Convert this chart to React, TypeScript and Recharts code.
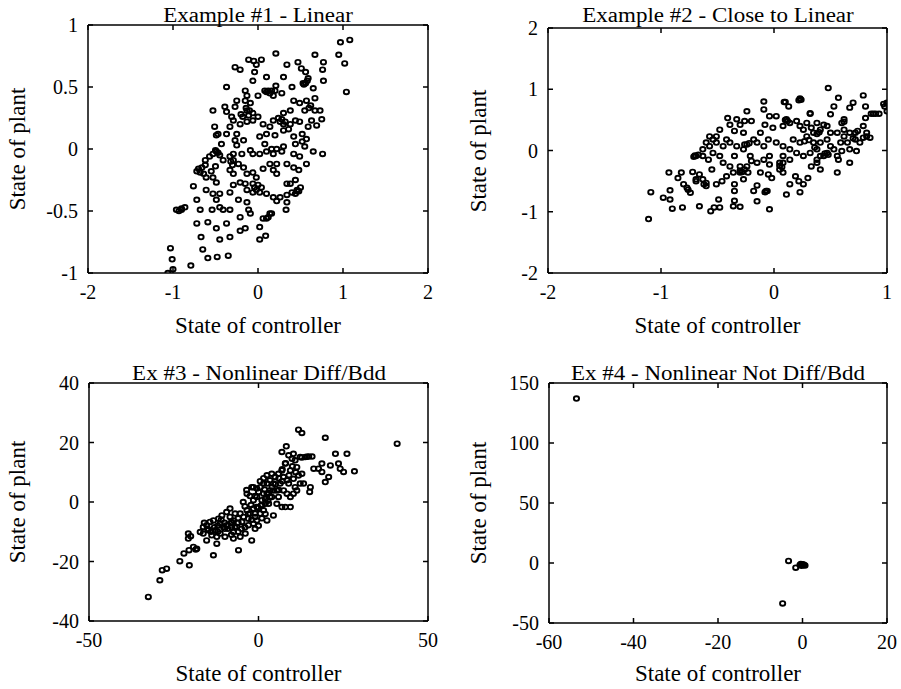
import { ScatterChart, Scatter, XAxis, YAxis } from "recharts";

const FONT = '"Liberation Serif", "DejaVu Serif", serif';

type Pt = [number, number];

// [state of controller, state of plant]
const ex1Points: Pt[] = [
  [0.97, 0.86], [1.08, 0.88], [0.95, 0.76], [1.02, 0.69], [1.04, 0.46],
  [0.67, 0.76], [0.77, 0.7], [0.76, 0.64], [0.77, 0.55], [0.65, 0.49], [0.47, 0.7], [0.51, 0.65],
  [0.56, 0.62], [0.59, 0.57], [0.53, 0.53], [0.21, 0.77], [0.34, 0.68], [0.3, 0.58], [0.4, 0.5],
  [0.21, 0.51], [0.12, 0.47], [0.18, 0.43], [0.28, 0.45],
  [-0.11, 0.72], [-0.05, 0.71], [0.04, 0.72], [-0.02, 0.68], [-0.04, 0.62], [-0.06, 0.55],
  [-0.27, 0.66], [-0.21, 0.64], [0.1, 0.58], [0.0, 0.43], [-0.15, 0.47], [-0.13, 0.43],
  [-0.25, 0.39], [-0.27, 0.34], [-0.39, 0.34], [-0.37, 0.3], [-0.13, 0.31], [-0.06, 0.29],
  [0.0, 0.26], [-0.11, 0.27],
  [0.42, 0.39], [0.49, 0.37], [0.57, 0.39], [0.67, 0.41], [0.67, 0.31], [0.73, 0.31], [0.55, 0.31],
  [0.38, 0.31], [0.3, 0.29],
  [0.18, 0.23], [0.26, 0.22], [0.32, 0.22], [0.38, 0.2], [0.44, 0.23], [0.49, 0.22], [0.63, 0.23],
  [0.75, 0.24], [0.69, 0.19], [0.59, 0.18], [0.52, 0.12], [0.42, 0.1], [0.44, 0.04], [0.52, 0.06],
  [0.57, 0.08], [0.55, 0.02], [0.65, -0.02], [0.76, -0.04], [0.57, -0.12], [0.49, -0.06], [0.42, -0.04],
  [-0.29, 0.23], [-0.21, 0.2], [-0.13, 0.22], [-0.06, 0.23], [0.06, 0.2], [0.14, 0.18], [0.1, 0.12],
  [0.02, 0.1], [0.2, 0.11], [0.3, 0.15], [0.36, 0.16],
  [-0.51, 0.18], [-0.49, 0.11], [-0.37, 0.12], [-0.25, 0.12], [-0.27, 0.07], [-0.25, 0.03],
  [-0.17, 0.07], [-0.43, 0.04],
  [0.08, 0.04], [0.16, 0.0], [0.22, 0.0], [0.28, -0.02], [0.3, 0.02], [0.18, -0.04], [0.1, -0.02],
  [0.02, -0.04], [-0.06, -0.04], [-0.09, -0.01], [-0.19, -0.04], [-0.29, -0.04], [-0.33, -0.06],
  [-0.41, -0.09], [-0.49, -0.02], [-0.53, -0.04], [-0.57, -0.06], [-0.62, -0.09], [-0.66, -0.15],
  [-0.68, -0.19], [-0.64, -0.2],
  [-0.29, -0.09], [-0.23, -0.12], [-0.17, -0.15], [-0.33, -0.17], [-0.29, -0.2], [-0.13, -0.2],
  [-0.06, -0.19], [-0.02, -0.23], [0.06, -0.16], [0.18, -0.17], [0.22, -0.2], [0.34, -0.12],
  [0.42, -0.15], [0.48, -0.17], [0.44, -0.25], [0.38, -0.28], [0.34, -0.28], [0.22, -0.12], [0.14, -0.12],
  [-0.53, -0.23], [-0.49, -0.27], [-0.61, -0.23], [-0.76, -0.3], [-0.61, -0.33], [-0.53, -0.36],
  [-0.45, -0.36], [-0.33, -0.35], [-0.29, -0.29], [-0.21, -0.27], [-0.15, -0.28], [-0.06, -0.28],
  [0.0, -0.29], [-0.13, -0.33], [-0.06, -0.35], [0.02, -0.35], [0.1, -0.36], [0.18, -0.39],
  [0.26, -0.39], [0.34, -0.37], [0.4, -0.35], [0.46, -0.33], [0.34, -0.43], [0.33, -0.49],
  [0.22, -0.42], [0.14, -0.52], [0.1, -0.56], [0.06, -0.56],
  [-0.72, -0.41], [-0.68, -0.49], [-0.54, -0.49], [-0.49, -0.41], [-0.45, -0.47], [-0.41, -0.49],
  [-0.33, -0.49], [-0.23, -0.41], [-0.13, -0.43], [-0.11, -0.49], [-0.09, -0.52], [-0.21, -0.55],
  [-0.96, -0.49], [-0.9, -0.48], [-0.86, -0.47],
  [-0.72, -0.6], [-0.59, -0.59], [-0.49, -0.64], [-0.37, -0.6], [-0.21, -0.66], [-0.15, -0.64],
  [-0.67, -0.71], [-0.45, -0.73], [-0.33, -0.71], [0.02, -0.63], [0.02, -0.73], [0.09, -0.7],
  [-0.65, -0.81], [-0.59, -0.88], [-0.48, -0.87], [-0.35, -0.86], [-0.79, -0.94], [-1.03, -0.8],
  [-1.01, -0.89], [-1.0, -0.97], [-1.06, -1.0],
  [-0.53, 0.31], [-0.47, 0.12], [-0.62, -0.13], [-0.37, 0.5], [-0.15, 0.39], [-0.09, 0.37],
  [-0.31, 0.26], [-0.33, 0.18],
  [-0.5, -0.01], [-0.47, -0.03], [-0.45, -0.05], [-0.7, -0.16], [-0.72, -0.18], [0.1, 0.46],
  [0.14, 0.45], [0.16, 0.47], [0.56, 0.53], [0.58, 0.55], [-0.14, 0.33], [-0.1, 0.31],
  [0.46, -0.34], [0.5, -0.31], [-0.9, -0.49], [-0.93, -0.5],
  [-0.55, -0.18], [-0.5, -0.14], [-0.04, -0.31], [-0.02, -0.33], [0.04, -0.31], [0.44, -0.36],
  [0.48, -0.34], [0.12, -0.55], [0.16, -0.52], [0.08, 0.47], [0.2, 0.47], [0.24, 0.25],
  [0.28, 0.24], [0.3, 0.2], [0.54, 0.52], [-0.2, 0.28], [-0.18, 0.26], [-0.32, -0.1],
  [-0.3, -0.13], [0.6, 0.33], [0.62, 0.35],
];

const ex2Points: Pt[] = [
  [-1.11, -1.12], [-1.09, -0.68], [-0.98, -0.77], [-0.92, -0.8], [-0.9, -0.95], [-0.81, -0.93],
  [-0.92, -0.65], [-0.93, -0.36], [-0.85, -0.45], [-0.82, -0.36], [-0.8, -0.55], [-0.77, -0.61],
  [-0.74, -0.69], [-0.72, -0.35], [-0.69, -0.47], [-0.66, -0.39], [-0.66, -0.91], [-0.63, -0.47],
  [-0.6, -0.53], [-0.55, -0.31], [-0.56, -0.99], [-0.53, -0.93], [-0.49, -0.8], [-0.48, -0.93],
  [-0.51, -0.55], [-0.46, -0.5], [-0.42, -0.42], [-0.35, -0.09], [-0.3, -0.26], [-0.35, -0.55],
  [-0.35, -0.66], [-0.35, -0.82], [-0.36, -0.91], [-0.3, -0.92], [-0.27, -0.47], [-0.23, -0.36],
  [-0.2, -0.17], [-0.18, -0.66], [-0.15, -0.83], [-0.15, -0.57], [-0.06, -0.66], [-0.04, -0.96],
  [-0.05, -0.39], [-0.02, -0.45], [-0.04, -0.23], [0.05, -0.31], [0.08, -0.2], [0.11, -0.72],
  [0.14, -0.55], [0.19, -0.42], [0.22, -0.5], [0.23, -0.68], [0.26, -0.55], [0.3, -0.45],
  [0.33, -0.26], [0.38, -0.2], [0.44, -0.09], [0.56, -0.36], [0.57, -0.15], [0.67, -0.2],
  [0.6, -0.01], [0.67, 0.02], [0.73, -0.01], [0.76, 0.13], [0.82, 0.23], [0.85, 0.21], [0.79, 0.4],
  [0.81, 0.53], [0.81, 0.72], [0.79, 0.9], [0.88, 0.6], [0.93, 0.6], [0.98, 0.72], [1.0, 0.78],
  [1.0, 0.64], [0.48, 1.02], [0.53, 0.72], [0.57, 0.86], [0.62, 0.51], [0.67, 0.7], [0.7, 0.78],
  [0.72, 0.29], [0.5, 0.59], [0.44, 0.42], [0.38, 0.45], [0.33, 0.37], [0.32, 0.61], [0.23, 0.85],
  [0.1, 0.79], [0.13, 0.72], [-0.09, 0.8], [-0.09, 0.67], [-0.04, 0.56], [0.02, 0.56], [0.11, 0.51],
  [0.2, 0.48], [0.23, 0.4], [0.08, 0.4], [-0.01, 0.37], [-0.08, 0.42], [-0.12, 0.29], [-0.18, 0.18],
  [-0.24, 0.1], [-0.27, 0.29], [-0.26, 0.48], [-0.3, 0.42], [-0.24, 0.64], [-0.2, 0.48], [-0.33, 0.51],
  [-0.41, 0.53], [-0.39, 0.42], [-0.48, 0.34], [-0.51, 0.23], [-0.57, 0.23], [-0.6, 0.13],
  [-0.51, 0.13], [-0.42, 0.18], [-0.35, 0.32], [-0.69, -0.09], [-0.63, -0.09], [-0.58, -0.15],
  [-0.54, -0.04], [-0.48, -0.09], [-0.45, -0.2], [-0.39, -0.26], [-0.36, -0.36], [-0.21, -0.09],
  [-0.15, 0.13], [-0.09, 0.07], [-0.05, 0.18], [0.02, 0.13], [0.08, 0.07], [0.14, 0.02],
  [0.17, 0.18], [0.23, 0.13], [0.29, 0.23], [0.35, 0.13], [0.38, 0.02], [0.41, 0.13], [0.5, 0.07],
  [0.59, 0.13], [0.62, 0.23], [0.65, 0.13], [0.5, 0.29], [0.47, 0.18], [0.56, 0.29], [0.62, 0.34],
  [0.08, -0.09], [0.14, -0.15], [0.2, -0.04], [0.26, -0.09], [0.32, -0.04], [0.38, -0.15],
  [0.41, -0.09], [-0.04, -0.09], [-0.09, -0.15], [-0.15, -0.2], [-0.24, -0.26], [-0.3, -0.36],
  [-0.26, -0.31], [-0.12, -0.36], [0.08, -0.36], [0.05, -0.2], [0.41, -0.31], [0.47, -0.04],
  [0.53, 0.02], [0.56, -0.09], [0.82, 0.29], [0.79, 0.21], [0.74, 0.32], [0.67, 0.29],
  [-0.54, 0.18], [-0.57, 0.07], [-0.63, 0.02], [-0.67, -0.07], [-0.45, 0.07], [-0.39, 0.13],
  [-0.33, 0.07], [-0.27, 0.02], [0.26, 0.34], [0.29, 0.45], [0.35, 0.29], [0.41, 0.34], [0.47, 0.4],
  [-0.69, -0.5], [-0.76, -0.64],
  [0.22, 0.82], [0.24, 0.83], [0.09, 0.79], [-0.07, -0.66], [-0.08, -0.68], [-0.7, -0.08],
  [-0.71, -0.1], [0.32, 0.6], [1.0, 0.77], [0.97, 0.76], [0.86, 0.6], [0.9, 0.6],
  [0.1, 0.5], [0.12, 0.48], [0.14, 0.45], [-0.26, 0.1], [-0.22, 0.12], [0.27, 0.15], [0.31, 0.17],
  [0.38, 0.27], [0.4, 0.3], [0.6, 0.45], [0.62, 0.47], [0.7, 0.2], [0.72, 0.18], [0.05, -0.25],
  [0.07, -0.27], [-0.3, -0.33], [-0.28, -0.35], [-0.62, -0.55], [-0.6, -0.58], [0.45, -0.05],
  [0.48, -0.07], [0.36, 0.05],
];

const ex3Points: Pt[] = [
  [-32.5, -31.9], [-29.1, -26.3], [-28.4, -22.9], [-27.1, -22.4], [-23.2, -19.9], [-22.0, -17.3],
  [-20.4, -21.3], [-20.7, -10.6], [-20.7, -12.3], [-20.5, -16.2], [-19.2, -15.1], [-18.2, -15.7],
  [-17.2, -10.1], [-16.3, -8.4], [-15.3, -7.8], [-15.3, -12.9], [-14.3, -6.7], [-13.8, -11.2],
  [-13.3, -17.9], [-12.8, -9.5], [-12.3, -14.0], [-11.8, -5.6], [-10.8, -4.5], [-10.3, -8.4],
  [-9.4, -3.4], [-8.4, -2.2], [-7.9, -6.7], [-7.4, -10.1], [-6.9, -3.9], [-5.9, -16.2], [-5.4, -11.7],
  [-4.9, -6.7], [-3.9, -10.6], [-3.0, -7.8], [-2.0, 5.0], [-2.0, -12.9], [-3.4, 2.8], [-1.5, 0.6],
  [-1.0, -3.9], [-0.5, -1.7], [0.5, 5.0], [1.5, 2.8], [1.5, -2.8], [2.5, 6.2], [2.5, -6.2],
  [3.0, -0.6], [3.4, 7.3], [3.9, 1.7], [4.4, -4.5], [4.9, 8.4], [5.4, 3.9], [6.4, 6.2], [6.9, -1.7],
  [7.4, 8.4], [7.9, 12.9], [8.2, 18.7], [6.9, 16.8], [8.9, 15.7], [9.4, 10.6], [9.9, 14.5],
  [10.3, 7.8], [10.8, 5.0], [11.3, 11.7], [11.8, 24.3], [12.8, 23.2], [11.8, 8.9], [12.8, 9.5],
  [13.3, 6.2], [12.3, 15.1], [13.8, 15.1], [15.8, 15.3], [15.3, 5.0], [15.1, 3.4], [16.3, 11.2],
  [17.7, 11.2], [18.7, 10.1], [18.7, 12.9], [19.7, 21.6], [19.7, 6.7], [20.7, 8.4], [21.2, 12.3],
  [22.7, 16.2], [23.6, 12.9], [24.1, 11.2], [25.1, 10.1], [26.1, 16.2], [28.3, 10.3], [40.9, 19.6],
  [8.4, 7.3], [8.4, 2.8], [9.4, 1.7], [10.3, 2.8],
  [-13.3, -6.2], [-11.3, -7.3], [-9.4, -7.8], [-7.4, -6.2], [-6.4, -8.4], [-4.4, -5.0], [-3.4, -2.8],
  [-2.5, -3.9], [-1.5, -2.2], [-0.5, 1.7], [0, 3.4], [1.0, 0.6], [2.0, -0.6], [3.4, 1.7], [4.4, 3.9],
  [5.9, 1.7], [7.4, 3.9], [8.9, 6.2], [4.4, 6.2], [2.5, 2.8], [0.5, -3.9], [-0.5, -6.2], [-1.5, -7.3],
  [-3.0, -5.6], [-5.4, -3.9], [-8.4, -5.0], [-11.3, -10.6], [-9.9, -11.7], [-7.4, -12.3],
  [-14.8, -9.5], [-16.3, -10.6], [-12.3, -11.7], [5.9, 9.5], [3.9, 9.5], [5.4, -0.6], [7.9, -1.7],
  [9.4, -1.7], [11.3, 3.9], [12.3, 6.2], [-1.5, 5.0], [1.5, 6.2], [3.4, 3.9], [6.9, 10.6],
  [10.3, 16.2], [10.8, 14.0],
  [-2.2, -1.0], [-1.0, 2.0], [0.8, -1.2], [1.8, 4.2], [2.8, 0.4], [-4.0, -1.5], [-6.0, -5.5],
  [-8.0, -8.5], [-10.0, -9.0], [-12.0, -8.0], [14.3, 15.2], [14.8, 15.3], [12.8, 15.0],
  [-20.0, -11.5], [-18.5, -16.0],
  [-16, -7], [-15, -9], [-14, -10], [-13, -8.5], [-12, -10], [-11, -6], [-10, -7], [-9, -9],
  [-8, -7], [-7, -8.5], [-6, -7], [-5, -9], [-4, -8.5], [-3, -4], [-2, -6], [-1, -5], [0, -2],
  [1, -1], [2, 1], [3, 3], [4, 5], [5, 6], [6, 4], [7, 7], [-4.5, 0], [-3.5, 4], [-2.5, 2],
  [-0.5, 4.5], [0.5, 7], [1.5, 8], [2.5, 9], [-1, -9], [0, -8], [1, -5.5], [2, -4], [-6, -10],
  [-8, -11], [6, 8], [7, 11], [8, 13], [9, 9], [10, 12], [11, 10],
];

const ex4Points: Pt[] = [
  [-53.5, 137], [-3.3, 1.7], [-1.6, -3.9], [-4.7, -33.7], [-0.6, -1.7], [0.1, -1.1], [0.4, -1.7],
  [-0.2, -2.2], [0.6, -2.0], [-0.4, -0.8],
];

const ex1XTicks = [-2, -1, 0, 1, 2];
const ex1YTicks = [-1, -0.5, 0, 0.5, 1];
const ex2XTicks = [-2, -1, 0, 1];
const ex2YTicks = [-2, -1, 0, 1, 2];
const ex3XTicks = [-50, 0, 50];
const ex3YTicks = [-40, -20, 0, 20, 40];
const ex4XTicks = [-60, -40, -20, 0, 20];
const ex4YTicks = [-50, 0, 50, 100, 150];

const titles = [
  "Example #1 - Linear",
  "Example #2 - Close to Linear",
  "Ex #3 - Nonlinear Diff/Bdd",
  "Ex #4 - Nonlinear Not Diff/Bdd",
];
const xLabel = "State of controller";
const yLabel = "State of plant";

function Ring(props: any) {
  const { cx, cy } = props;
  if (cx == null || cy == null) return null;
  return <ellipse cx={cx} cy={cy} rx={2.6} ry={2.3} fill="none" stroke="#000" strokeWidth={1.9} />;
}

const NoTick = () => <g />;

type Box = { x0: number; x1: number; y0: number; y1: number };

type PanelProps = {
  left: number;
  top: number;
  w: number;
  h: number;
  plot: Box;
  titleY: number;
  xLabelY: number;
  yLabelX: number;
  title: string;
  points: Pt[];
  xTicks: number[];
  yTicks: number[];
};

const textStyle = {
  position: "absolute" as const,
  fontFamily: FONT,
  fontSize: 23,
  lineHeight: 1,
  whiteSpace: "nowrap" as const,
  color: "#000",
};

function Panel(p: PanelProps) {
  const { plot, w, h } = p;
  const margin = {
    left: plot.x0 - 40,
    right: w - plot.x1 - 2,
    top: plot.y0 - 2,
    bottom: h - plot.y1 - 30,
  };
  const data = p.points.map(([x, y]) => ({ x, y }));
  const xDomain = [p.xTicks[0], p.xTicks[p.xTicks.length - 1]];
  const yDomain = [p.yTicks[0], p.yTicks[p.yTicks.length - 1]];
  const cx = (plot.x0 + plot.x1) / 2;
  const cy = (plot.y0 + plot.y1) / 2;
  const tickFont = { fill: "#000", fontSize: 20, fontFamily: FONT };
  const line = { stroke: "#000", strokeWidth: 1.5 };

  return (
    <div style={{ position: "absolute", left: p.left, top: p.top, width: w, height: h }}>
      <ScatterChart width={w} height={h} margin={margin}>
        <XAxis
          xAxisId="b"
          type="number"
          dataKey="x"
          domain={xDomain}
          ticks={p.xTicks}
          interval={0}
          allowDataOverflow
          height={30}
          tickSize={-5}
          tickMargin={17}
          axisLine={line}
          tickLine={line}
          tick={tickFont}
        />
        <XAxis
          xAxisId="t"
          orientation="top"
          type="number"
          dataKey="x"
          domain={xDomain}
          ticks={p.xTicks}
          interval={0}
          allowDataOverflow
          height={2}
          tickSize={-5}
          axisLine={line}
          tickLine={line}
          tick={NoTick}
        />
        <YAxis
          yAxisId="l"
          type="number"
          dataKey="y"
          domain={yDomain}
          ticks={p.yTicks}
          interval={0}
          allowDataOverflow
          width={40}
          tickSize={-5}
          tickMargin={15}
          axisLine={line}
          tickLine={line}
          tick={tickFont}
        />
        <YAxis
          yAxisId="r"
          orientation="right"
          type="number"
          dataKey="y"
          domain={yDomain}
          ticks={p.yTicks}
          interval={0}
          allowDataOverflow
          width={2}
          tickSize={-5}
          axisLine={line}
          tickLine={line}
          tick={NoTick}
        />
        <Scatter
          xAxisId="b"
          yAxisId="l"
          data={data}
          shape={Ring}
          isAnimationActive={false}
        />
      </ScatterChart>
      <div
        style={{
          ...textStyle,
          fontSize: 20,
          left: cx,
          top: p.titleY,
          transform: "translate(-50%, -50%) scaleX(1.15)",
        }}
      >
        {p.title}
      </div>
      <div style={{ ...textStyle, left: cx, top: p.xLabelY, transform: "translate(-50%, -50%)" }}>
        {xLabel}
      </div>
      <div
        style={{
          ...textStyle,
          left: p.yLabelX,
          top: cy,
          transform: "translate(-50%, -50%) rotate(-90deg)",
        }}
      >
        {yLabel}
      </div>
    </div>
  );
}

export default function App() {
  return (
    <div
      style={{
        position: "absolute",
        left: 0,
        top: 0,
        width: 901,
        height: 689,
        background: "#fff",
        overflow: "hidden",
      }}
    >
      <Panel
        left={0} top={0} w={450} h={345}
        plot={{ x0: 88, x1: 428, y0: 25, y1: 273 }}
        titleY={15} xLabelY={325} yLabelX={17}
        title={titles[0]} points={ex1Points} xTicks={ex1XTicks} yTicks={ex1YTicks}
      />
      <Panel
        left={450} top={0} w={451} h={345}
        plot={{ x0: 98, x1: 437, y0: 28, y1: 273 }}
        titleY={15} xLabelY={325} yLabelX={28}
        title={titles[1]} points={ex2Points} xTicks={ex2XTicks} yTicks={ex2YTicks}
      />
      <Panel
        left={0} top={345} w={450} h={344}
        plot={{ x0: 89, x1: 428, y0: 38, y1: 276 }}
        titleY={28} xLabelY={328} yLabelX={17}
        title={titles[2]} points={ex3Points} xTicks={ex3XTicks} yTicks={ex3YTicks}
      />
      <Panel
        left={450} top={345} w={451} h={344}
        plot={{ x0: 99, x1: 437, y0: 38, y1: 278 }}
        titleY={28} xLabelY={328} yLabelX={28}
        title={titles[3]} points={ex4Points} xTicks={ex4XTicks} yTicks={ex4YTicks}
      />
    </div>
  );
}
